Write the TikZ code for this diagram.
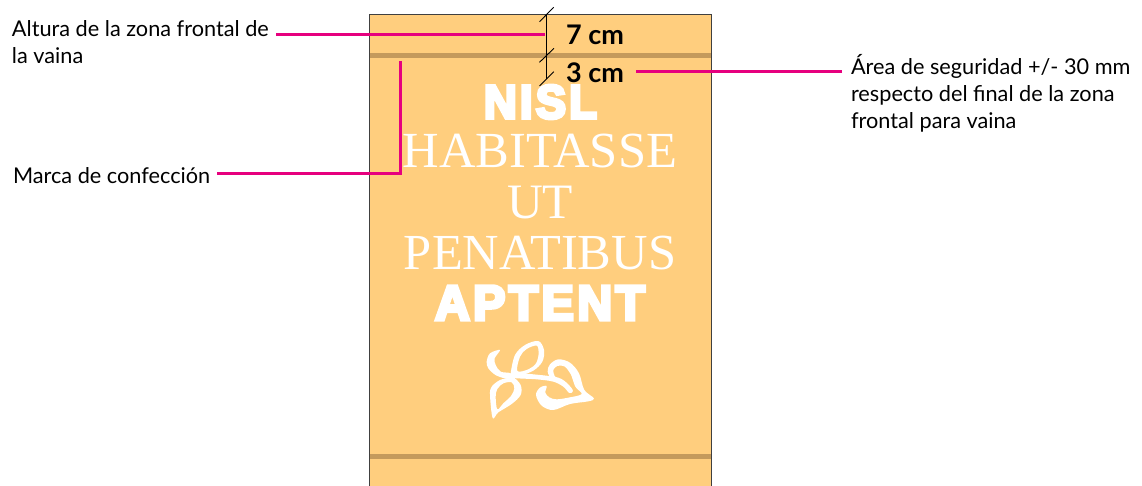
\documentclass[tikz,border=0pt]{standalone}
\usepackage{graphicx}
\usepackage{fontspec}
\setmainfont{Lato}
\newfontfamily\serifbig{Liberation Serif}
\newfontfamily\heavy[FakeBold=7,LetterSpace=7]{Liberation Sans Bold}
\definecolor{sheet}{HTML}{FFCE7E}
\definecolor{band}{HTML}{C49A5C}
\definecolor{lead}{HTML}{E6007E}
\tikzset{
  leadline/.style={draw=lead,line width=3pt},
  dimline/.style={draw=black,line width=0.9pt},
  labeltext/.style={inner sep=0pt,outer sep=0pt,align=left,font=\fontsize{21.7}{27}\selectfont,text=black},
  dimtext/.style={inner sep=0pt,font=\bfseries\fontsize{27}{30}\selectfont,text=black},
  bigtext/.style={inner sep=0pt,text=white},
  leaf/.style={fill=white,draw=none,even odd rule}
}
\begin{document}
\begin{tikzpicture}[x=1pt,y=-1pt]
\useasboundingbox (0,0) rectangle (1142,486);
% sheet
\fill[sheet] (369.5,14.5) rectangle (711,486);
\draw[black!75,line width=1pt] (369.5,486) -- (369.5,14.5) -- (711,14.5) -- (711,486);
\fill[band] (370,53) rectangle (710.5,58);
\fill[band] (370,454) rectangle (710.5,459);
% big text
\node[bigtext] (nisl) at (540.5,102) {\resizebox{113pt}{33pt}{\heavy NISL}};
\node[bigtext] (habitasse) at (540,151.5) {\resizebox{274pt}{!}{\serifbig HABITASSE}};
\node[bigtext] (ut) at (540,202.5) {\resizebox{66pt}{!}{\serifbig UT}};
\node[bigtext] (penatibus) at (540,253.5) {\resizebox{272pt}{!}{\serifbig PENATIBUS}};
\node[bigtext] (aptent) at (540,303) {\resizebox{210pt}{34pt}{\heavy APTENT}};
% leaf emblem
\begin{scope}[shift={(470,330)},x=0.3333pt,y=-0.3333pt]
\fill[leaf] plot[smooth cycle,tension=0.55] coordinates {(122,130)(135,75)(165,45)(205,33)(222,60)(217,95)(190,122)(150,137)(125,142)}
  plot[smooth cycle,tension=0.55] coordinates {(142,123)(150,80)(170,57)(200,47)(206,70)(198,100)(175,118)};
\fill[leaf] plot[smooth cycle,tension=0.55] coordinates {(90,60)(60,70)(50,95)(55,115)(80,137)(122,148)(122,130)(92,125)(77,105)(74,85)};
\fill[leaf] plot[smooth cycle,tension=0.55] coordinates {(120,143)(90,150)(65,170)(60,195)(68,264)(85,247)(125,222)(152,195)(152,165)(130,141)}
  plot[smooth cycle,tension=0.55] coordinates {(125,157)(133,175)(123,198)(100,220)(82,238)(77,200)(82,177)(100,160)};
\fill[leaf] plot[smooth cycle,tension=0.55] coordinates {(125,143)(200,148)(250,155)(280,170)(298,189)(309,183)(295,163)(265,143)(200,134)(130,129)};
\fill[leaf] plot[smooth cycle,tension=0.55] coordinates {(245,147)(233,125)(240,103)(265,88)(300,98)(327,130)(343,180)(372,205)(355,214)(300,222)(250,240)(215,227)(198,195)(210,173)(230,168)(226,188)(238,202)(260,208)(300,202)(335,192)(316,170)(302,132)(283,109)(262,108)(250,120)(254,138)(266,150)};
\end{scope}
% dimensions
\coordinate (dimtop) at (546,15);
\coordinate (dimbot) at (546,79);
\draw[dimline] (dimtop) -- (dimbot);
\coordinate (ta1) at (539.5,21.7); \coordinate (ta2) at (553.7,7.3);
\coordinate (tb1) at (539.5,62.3); \coordinate (tb2) at (554,48.3);
\coordinate (tc1) at (539.5,86);   \coordinate (tc2) at (553.7,71.7);
\draw[dimline] (ta1) -- (ta2);
\draw[dimline] (tb1) -- (tb2);
\draw[dimline] (tc1) -- (tc2);
\node[dimtext,anchor=west] (seven) at (566,35) {7 cm};
\node[dimtext,anchor=west] (three) at (566,72.5) {3 cm};
% labels
\node[labeltext,anchor=north west] (altura) at (12,21) {Altura de la zona frontal de\\la vaina};
\node[labeltext,anchor=west] (marca) at (13,176) {Marca de confección};
\node[labeltext,anchor=north west] (area) at (851,54) {Área de seguridad +/- 30 mm\\respecto del final de la zona\\frontal para vaina};
% leaders
\coordinate (altend) at (545,34.5);
\coordinate (areaend) at (636,72);
\coordinate (marcacorner) at (400,174);
\coordinate (marcaend) at (400,61);
\coordinate (altstart) at (276,34.5);
\coordinate (areastart) at (842,72);
\coordinate (marcastart) at (217,174);
\draw[leadline] (altstart) -- (altend);
\draw[leadline] (areastart) -- (areaend);
\draw[leadline] (marcastart) -- (marcacorner) -- (marcaend);
\end{tikzpicture}
\end{document}
